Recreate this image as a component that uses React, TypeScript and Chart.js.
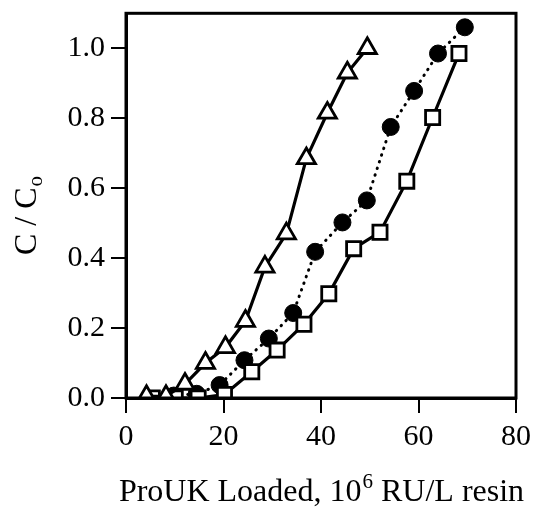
import React, { useEffect, useRef } from "react";
import { Chart, registerables } from "chart.js";

Chart.register(...registerables);

const triX = [4.2, 8.2, 12.1, 16.3, 20.4, 24.5, 28.5, 32.9, 37.0, 41.3, 45.4, 49.5];
const triY = [0.005, 0.005, 0.04, 0.1, 0.145, 0.22, 0.375, 0.47, 0.685, 0.815, 0.93, 1.0];

const circX = [9.8, 14.5, 19.2, 24.3, 29.3, 34.3, 38.8, 44.4, 49.4, 54.3, 59.1, 64.0, 69.5];
const circY = [0.007, 0.012, 0.037, 0.108, 0.17, 0.243, 0.418, 0.502, 0.565, 0.775, 0.878, 0.985, 1.06];

const sqX = [5.4, 10.1, 14.8, 20.2, 25.8, 31.0, 36.5, 41.6, 46.7, 52.1, 57.6, 62.9, 68.3];
const sqY = [0.0, 0.0, 0.0, 0.01, 0.075, 0.137, 0.211, 0.298, 0.427, 0.474, 0.62, 0.802, 0.985];

const xTicks = [0, 20, 40, 60, 80];
const yTicks = [0, 0.2, 0.4, 0.6, 0.8, 1.0];

const FONT = '"Liberation Serif", "Times New Roman", serif';

const toPts = (xs: number[], ys: number[]) => xs.map((x, i) => ({ x, y: ys[i] }));

const framePlugin = {
  id: "frameAndTitles",
  afterDraw(chart: any) {
    const { ctx, chartArea } = chart;
    const { left, top, right, bottom } = chartArea;
    ctx.save();
    ctx.strokeStyle = "#000";
    ctx.lineWidth = 3;
    ctx.strokeRect(left, top, right - left, bottom - top);

    // X title with superscript
    ctx.fillStyle = "#000";
    ctx.textBaseline = "alphabetic";
    ctx.textAlign = "left";
    const big = `32px ${FONT}`;
    const small = `21px ${FONT}`;
    const p1 = "ProUK Loaded, 10";
    const p2 = "6";
    const p3 = " RU/L resin";
    ctx.font = big;
    const w1 = ctx.measureText(p1).width;
    const w3 = ctx.measureText(p3).width;
    ctx.font = small;
    const w2 = ctx.measureText(p2).width;
    const total = w1 + w2 + w3;
    let x = 321 - total / 2;
    const base = 501;
    ctx.font = big;
    ctx.fillText(p1, x, base);
    x += w1;
    ctx.font = small;
    ctx.fillText(p2, x + 1, base - 13);
    x += w2 + 1;
    ctx.font = big;
    ctx.fillText(p3, x, base);

    // Y title with subscript, rotated
    ctx.translate(36, 216);
    ctx.rotate(-Math.PI / 2);
    const q1 = "C / C";
    const q2 = "o";
    ctx.font = big;
    const v1 = ctx.measureText(q1).width;
    ctx.font = small;
    const v2 = ctx.measureText(q2).width;
    let y0 = -(v1 + v2) / 2;
    ctx.font = big;
    ctx.fillText(q1, y0, 0);
    ctx.font = small;
    ctx.fillText(q2, y0 + v1 + 1, 6);
    ctx.restore();
  },
};

export default function App() {
  const ref = useRef<HTMLCanvasElement>(null);
  useEffect(() => {
    if (!ref.current) return;
    const chart = new Chart(ref.current, {
      type: "scatter",
      data: {
        datasets: [
          {
            label: "triangles",
            data: toPts(triX, triY),
            showLine: true,
            borderColor: "#000",
            borderWidth: 3.2,
            pointStyle: "triangle",
            pointRadius: 10.5,
            pointBackgroundColor: "#fff",
            pointBorderColor: "#000",
            pointBorderWidth: 2.8,
          },
          {
            label: "squares",
            data: toPts(sqX, sqY),
            showLine: true,
            borderColor: "#000",
            borderWidth: 3.2,
            pointStyle: "rect",
            pointRadius: 10,
            pointBackgroundColor: "#fff",
            pointBorderColor: "#000",
            pointBorderWidth: 2.8,
          },
          {
            label: "circles",
            data: toPts(circX, circY),
            showLine: true,
            borderColor: "#000",
            borderWidth: 3,
            borderDash: [0.5, 6.5],
            borderCapStyle: "round",
            pointStyle: "circle",
            pointRadius: 8.5,
            pointBackgroundColor: "#000",
            pointBorderColor: "#000",
            pointBorderWidth: 1,
          },
        ],
      },
      options: {
        responsive: false,
        animation: false,
        layout: { padding: { left: 0, right: 18, top: 13, bottom: 0 } },
        plugins: { legend: { display: false }, tooltip: { enabled: false } },
        scales: {
          x: {
            type: "linear",
            min: 0,
            max: 80,
            afterBuildTicks: (s: any) => {
              s.ticks = xTicks.map((v) => ({ value: v }));
            },
            afterFit: (s: any) => {
              s.height = 112;
              s.paddingLeft = 0;
              s.paddingRight = 0;
            },
            ticks: {
              color: "#000",
              font: { family: FONT, size: 30 },
              padding: 6,
              maxRotation: 0,
              callback: (v: any) => String(v),
            },
            grid: {
              drawOnChartArea: false,
              drawTicks: true,
              tickLength: 15,
              color: "#000",
              lineWidth: 2,
            },
            border: { display: true, color: "#000", width: 3 },
          },
          y: {
            type: "linear",
            min: 0,
            max: 1.1,
            afterBuildTicks: (s: any) => {
              s.ticks = yTicks.map((v) => ({ value: v }));
            },
            afterFit: (s: any) => {
              s.width = 126;
              s.paddingTop = 0;
              s.paddingBottom = 0;
            },
            ticks: {
              color: "#000",
              font: { family: FONT, size: 30 },
              padding: 6,
              callback: (v: any) => Number(v).toFixed(1),
            },
            grid: {
              drawOnChartArea: false,
              drawTicks: true,
              tickLength: 15,
              color: "#000",
              lineWidth: 2,
            },
            border: { display: true, color: "#000", width: 3 },
          },
        },
      },
      plugins: [framePlugin],
    });
    return () => chart.destroy();
  }, []);
  return (
    <div style={{ position: "absolute", left: 0, top: 0, width: 534, height: 510, background: "#fff" }}>
      <canvas ref={ref} width={534} height={510} style={{ width: 534, height: 510 }} />
    </div>
  );
}
